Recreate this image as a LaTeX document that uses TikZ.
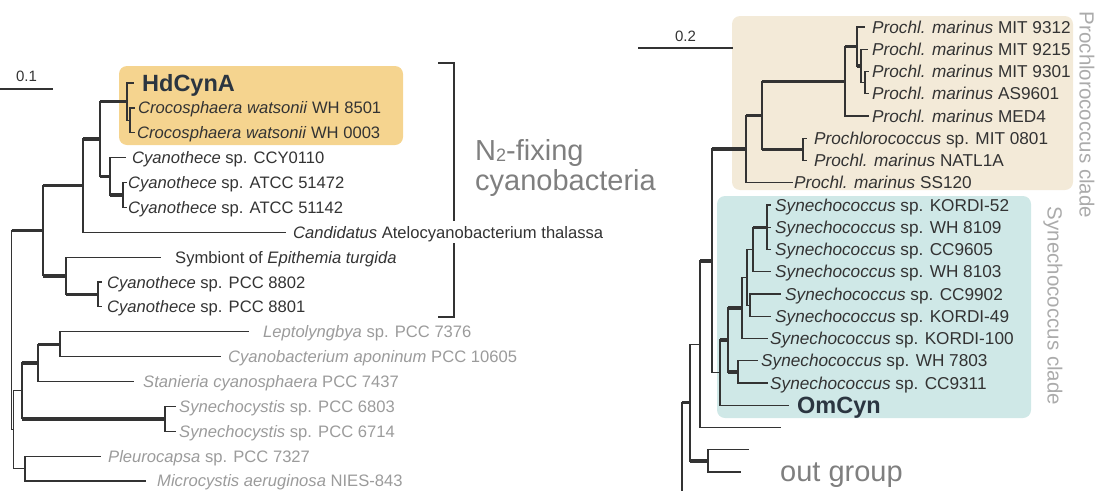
\documentclass[tikz,border=0pt]{standalone}
\usepackage{fontspec}
\setmainfont{Liberation Sans}
\usepackage{xcolor}
\usepackage{tikz}
\usetikzlibrary{positioning}
\definecolor{ink}{HTML}{333333}
\definecolor{mute}{HTML}{9B9B9B}
\definecolor{note}{HTML}{7F7F7F}
\definecolor{pale}{HTML}{ABABAB}
\definecolor{geneink}{HTML}{2B3540}
\definecolor{hdfill}{HTML}{F5D48F}
\definecolor{profill}{HTML}{F3EAD8}
\definecolor{synfill}{HTML}{CFE8E7}

\begin{document}
\begin{tikzpicture}[x=1pt,y=-1pt,
      branch/.style={draw=ink,line width=1.2pt,line cap=rect},
      strong/.style={draw=ink,line width=3.4pt},
      bracket/.style={draw=ink,line width=2pt},
      taxon/.style={inner sep=0pt,text height=12pt,text depth=0pt,text=ink,font=\fontsize{16.6}{18}\selectfont},
      faint/.style={taxon,text=mute},
      rtaxon/.style={taxon,text height=12.4pt,font=\fontsize{17.2}{19}\selectfont},
      genelabel/.style={inner sep=0pt,text height=17pt,text depth=0pt,text=geneink,font=\fontsize{23.5}{25}\selectfont\bfseries},
      bigtext/.style={inner sep=0pt,text height=21pt,text depth=5pt,text=note,font=\fontsize{29}{31}\selectfont},
      cladetext/.style={inner sep=0pt,text=pale,font=\fontsize{20.5}{22}\selectfont,rotate=-90},
      scaletext/.style={inner sep=0pt,text=ink,font=\fontsize{15}{16}\selectfont}]
  \useasboundingbox (0,0) rectangle (1099,490);
  % highlight boxes
  \fill[hdfill,rounded corners=8pt] (119,66) rectangle (403,145);
  \fill[profill,rounded corners=8pt] (732,16) rectangle (1073,190);
  \fill[synfill,rounded corners=8pt] (717,196) rectangle (1031,418);

  % left tree, inner nodes
  \coordinate (R) at (11.5,330.2); \coordinate (I) at (43,230.7);
  \coordinate (F) at (83,185.6);   \coordinate (E) at (100,139);
  \coordinate (A) at (127,101.7);  \coordinate (B) at (130,120.3);
  \coordinate (C) at (110,176.3);  \coordinate (D) at (123,195);
  \coordinate (G) at (66,275.8);   \coordinate (H) at (98,294.4);
  \coordinate (O) at (13.5,429.7); \coordinate (M) at (22,390.8);
  \coordinate (K) at (38,362.8);   \coordinate (J) at (60,344.2);
  \coordinate (L) at (165,418.8);  \coordinate (N) at (25,468.5);
  % left tree, leaf ends
  \coordinate (l0) at (133,83);    \coordinate (l1) at (134,107.9);
  \coordinate (l2) at (134,132.7); \coordinate (l3) at (125,157.6);
  \coordinate (l4) at (126,182.5); \coordinate (l5) at (126,207.4);
  \coordinate (l6) at (285,232.2); \coordinate (l7) at (160,257.1);
  \coordinate (l8) at (101,282);   \coordinate (l9) at (101,306.8);
  \coordinate (l10) at (248,331.7); \coordinate (l11) at (220,356.6);
  \coordinate (l12) at (133,381.4); \coordinate (l13) at (175,406.3);
  \coordinate (l14) at (175,431.2); \coordinate (l15) at (100,456.1);
  \coordinate (l16) at (145,480.9);

  % left tree, branches
  \draw[branch] (R |- I)--(R |- O); \draw[strong] (R |- I)--(I); \draw[branch] (R |- O)--(O);
  \draw[branch] (I |- F)--(I |- G); \draw[strong] (I |- F)--(F); \draw[strong] (I |- G)--(G);
  \draw[branch] (F |- E)--(F |- l6); \draw[strong] (F |- E)--(E); \draw[branch] (F |- l6)--(l6);
  \draw[branch] (E |- A)--(E |- C); \draw[strong] (E |- A)--(A); \draw[strong] (E |- C)--(C);
  \draw[branch] (A |- l0)--(A |- B); \draw[branch] (A |- l0)--(l0); \draw[branch] (A |- B)--(B);
  \draw[branch] (B |- l1)--(B |- l2); \draw[branch] (B |- l1)--(l1); \draw[branch] (B |- l2)--(l2);
  \draw[branch] (C |- l3)--(C |- D); \draw[branch] (C |- l3)--(l3); \draw[strong] (C |- D)--(D);
  \draw[branch] (D |- l4)--(D |- l5); \draw[branch] (D |- l4)--(l4); \draw[branch] (D |- l5)--(l5);
  \draw[branch] (G |- l7)--(G |- H); \draw[branch] (G |- l7)--(l7); \draw[strong] (G |- H)--(H);
  \draw[branch] (H |- l8)--(H |- l9); \draw[branch] (H |- l8)--(l8); \draw[branch] (H |- l9)--(l9);
  \draw[branch] (O |- M)--(O |- N); \draw[branch] (O |- M)--(M); \draw[branch] (O |- N)--(N);
  \draw[branch] (M |- K)--(M |- L); \draw[strong] (M |- K)--(K); \draw[strong] (M |- L)--(L);
  \draw[branch] (K |- J)--(K |- l12); \draw[strong] (K |- J)--(J); \draw[branch] (K |- l12)--(l12);
  \draw[branch] (J |- l10)--(J |- l11); \draw[branch] (J |- l10)--(l10); \draw[branch] (J |- l11)--(l11);
  \draw[branch] (L |- l13)--(L |- l14); \draw[branch] (L |- l13)--(l13); \draw[branch] (L |- l14)--(l14);
  \draw[branch] (N |- l15)--(N |- l16); \draw[branch] (N |- l15)--(l15); \draw[branch] (N |- l16)--(l16);

  % right tree, inner nodes
  \coordinate (base) at (682,490); \coordinate (Q) at (690,402.5);
  \coordinate (S) at (700,344.1);  \coordinate (T) at (708,460.9);
  \coordinate (U) at (712,260.8);  \coordinate (V) at (720,372.6);
  \coordinate (W) at (728,339.9);  \coordinate (X) at (738,371.9);
  \coordinate (Y) at (742,307.9);  \coordinate (Z) at (747,277.3);
  \coordinate (Z1) at (750,305.1); \coordinate (Z2) at (753,249.5);
  \coordinate (Z3) at (767,227.25);
  \coordinate (PA) at (746,149);   \coordinate (PB) at (762,115.3);
  \coordinate (PC) at (803,149.4); \coordinate (PD) at (845,81.2);
  \coordinate (PE) at (857,46.5);  \coordinate (PF) at (861,65.9);
  \coordinate (PG) at (865,82.6);
  % right tree, leaf ends
  \coordinate (r0) at (864,27);     \coordinate (r1) at (867,49.25);
  \coordinate (r2) at (868,71.5);   \coordinate (r3) at (868,93.75);
  \coordinate (r4) at (868,116);    \coordinate (r5) at (806,138.25);
  \coordinate (r6) at (806,160.5);  \coordinate (r7) at (792,182.75);
  \coordinate (r8) at (770,205);    \coordinate (r9) at (770,227.25);
  \coordinate (r10) at (770,249.5); \coordinate (r11) at (770,271.75);
  \coordinate (r12) at (780,294);   \coordinate (r13) at (770,316.25);
  \coordinate (r14) at (767,338.5); \coordinate (r15) at (757,360.75);
  \coordinate (r16) at (767,383);   \coordinate (r17) at (788,405.25);
  \coordinate (r18) at (780,427.5); \coordinate (r19) at (748,449.75);
  \coordinate (r20) at (740,472);

  % right tree, branches
  \draw[branch] (base |- Q)--(base); \draw[strong] (base |- Q)--(Q);
  \draw[branch] (Q |- S)--(Q |- T); \draw[branch] (Q |- S)--(S); \draw[strong] (Q |- T)--(T);
  \draw[branch] (T |- r19)--(T |- r20); \draw[branch] (T |- r19)--(r19); \draw[branch] (T |- r20)--(r20);
  \draw[branch] (S |- U)--(S |- r18); \draw[strong] (S |- U)--(U); \draw[branch] (S |- r18)--(r18);
  \draw[branch] (U |- PA)--(U |- V); \draw[strong] (U |- PA)--(PA); \draw[branch] (U |- V)--(V);
  \draw[branch] (PA |- PB)--(PA |- r7); \draw[strong] (PA |- PB)--(PB); \draw[branch] (PA |- r7)--(r7);
  \draw[branch] (PB |- PD)--(PB |- PC); \draw[strong] (PB |- PD)--(PD); \draw[strong] (PB |- PC)--(PC);
  \draw[branch] (PC |- r5)--(PC |- r6); \draw[branch] (PC |- r5)--(r5); \draw[branch] (PC |- r6)--(r6);
  \draw[branch] (PD |- PE)--(PD |- r4); \draw[strong] (PD |- PE)--(PE); \draw[branch] (PD |- r4)--(r4);
  \draw[branch] (PE |- r0)--(PE |- PF); \draw[branch] (PE |- r0)--(r0); \draw[strong] (PE |- PF)--(PF);
  \draw[branch] (PF |- r1)--(PF |- PG); \draw[branch] (PF |- r1)--(r1); \draw[branch] (PF |- PG)--(PG);
  \draw[branch] (PG |- r2)--(PG |- r3); \draw[branch] (PG |- r2)--(r2); \draw[branch] (PG |- r3)--(r3);
  \draw[branch] (V |- W)--(V |- r17); \draw[strong] (V |- W)--(W); \draw[branch] (V |- r17)--(r17);
  \draw[branch] (W |- Y)--(W |- X); \draw[strong] (W |- Y)--(Y); \draw[strong] (W |- X)--(X);
  \draw[branch] (X |- r15)--(X |- r16); \draw[branch] (X |- r15)--(r15); \draw[branch] (X |- r16)--(r16);
  \draw[branch] (Y |- Z)--(Y |- r14); \draw[branch] (Y |- Z)--(Z); \draw[branch] (Y |- r14)--(r14);
  \draw[branch] (Z |- Z2)--(Z |- Z1); \draw[branch] (Z |- Z2)--(Z2); \draw[branch] (Z |- Z1)--(Z1);
  \draw[branch] (Z1 |- r12)--(Z1 |- r13); \draw[branch] (Z1 |- r12)--(r12); \draw[branch] (Z1 |- r13)--(r13);
  \draw[branch] (Z2 |- Z3)--(Z2 |- r11); \draw[strong] (Z2 |- Z3)--(Z3); \draw[branch] (Z2 |- r11)--(r11);
  \draw[branch] (Z3 |- r8)--(Z3 |- r10); \draw[branch] (Z3 |- r8)--(r8);
  \draw[branch] (Z3 |- r9)--(r9); \draw[branch] (Z3 |- r10)--(r10);

  % scale bars
  \coordinate (sbl) at (0,89); \coordinate (sbr) at (53,89);
  \draw[branch,line cap=butt] (sbl)--(sbr) node[scaletext,midway,above=7pt] (scalel) {0.1};
  \coordinate (sbl2) at (638,48); \coordinate (sbr2) at (733,48);
  \draw[branch,line cap=butt] (sbl2)--(sbr2) node[scaletext,midway,above=6pt] (scaler) {0.2};

  % bracket
  \coordinate (brtop) at (438,63); \coordinate (brbot) at (438,317);
  \draw[bracket] (brtop)--++(16,0) |- (brbot);

  % left labels
  \node[genelabel,right=9pt of l0] (t0) {HdCynA};
  \node[taxon,right=4pt of l1] (t1) {\textit{Crocosphaera watsonii} WH 8501};
  \node[taxon,right=3pt of l2] (t2) {\textit{Crocosphaera watsonii} WH 0003};
  \node[taxon,right=7pt of l3] (t3) {\textit{Cyanothece} sp. CCY0110};
  \node[taxon,right=2pt of l4] (t4) {\textit{Cyanothece} sp. ATCC 51472};
  \node[taxon,right=2pt of l5] (t5) {\textit{Cyanothece} sp. ATCC 51142};
  \node[taxon,fill=white,inner ysep=5pt,right=8pt of l6] (t6) {\textit{Candidatus} Atelocyanobacterium thalassa};
  \node[taxon,right=15pt of l7] (t7) {Symbiont of \textit{Epithemia turgida}};
  \node[taxon,right=6pt of l8] (t8) {\textit{Cyanothece} sp. PCC 8802};
  \node[taxon,right=6pt of l9] (t9) {\textit{Cyanothece} sp. PCC 8801};
  \node[faint,right=15pt of l10] (t10) {\textit{Leptolyngbya} sp. PCC 7376};
  \node[faint,right=8pt of l11] (t11) {\textit{Cyanobacterium aponinum} PCC 10605};
  \node[faint,right=10pt of l12] (t12) {\textit{Stanieria cyanosphaera} PCC 7437};
  \node[faint,right=4pt of l13] (t13) {\textit{Synechocystis} sp. PCC 6803};
  \node[faint,right=4pt of l14] (t14) {\textit{Synechocystis} sp. PCC 6714};
  \node[faint,right=8pt of l15] (t15) {\textit{Pleurocapsa} sp. PCC 7327};
  \node[faint,right=12pt of l16] (t16) {\textit{Microcystis aeruginosa} NIES-843};
  \node[bigtext,text depth=4pt,anchor=base west] (nfix) at (475,160) {N\raisebox{-1pt}{\fontsize{18}{18}\selectfont 2}-fixing};
  \node[bigtext,text height=20pt,anchor=base west] (cyano) at ([yshift=-30pt]nfix.base west) {cyanobacteria};

  % right labels
  \node[rtaxon,right=8pt of r0] (s0) {\textit{Prochl. marinus} MIT 9312};
  \node[rtaxon,right=5pt of r1] (s1) {\textit{Prochl. marinus} MIT 9215};
  \node[rtaxon,right=4pt of r2] (s2) {\textit{Prochl. marinus} MIT 9301};
  \node[rtaxon,right=4pt of r3] (s3) {\textit{Prochl. marinus} AS9601};
  \node[rtaxon,right=4pt of r4] (s4) {\textit{Prochl. marinus} MED4};
  \node[rtaxon,right=8pt of r5] (s5) {\textit{Prochlorococcus} sp. MIT 0801};
  \node[rtaxon,right=8pt of r6] (s6) {\textit{Prochl. marinus} NATL1A};
  \node[rtaxon,right=2pt of r7] (s7) {\textit{Prochl. marinus} SS120};
  \node[rtaxon,right=5pt of r8] (s8) {\textit{Synechococcus} sp. KORDI-52};
  \node[rtaxon,right=5pt of r9] (s9) {\textit{Synechococcus} sp. WH 8109};
  \node[rtaxon,right=5pt of r10] (s10) {\textit{Synechococcus} sp. CC9605};
  \node[rtaxon,right=5pt of r11] (s11) {\textit{Synechococcus} sp. WH 8103};
  \node[rtaxon,right=5pt of r12] (s12) {\textit{Synechococcus} sp. CC9902};
  \node[rtaxon,right=5pt of r13] (s13) {\textit{Synechococcus} sp. KORDI-49};
  \node[rtaxon,right=3pt of r14] (s14) {\textit{Synechococcus} sp. KORDI-100};
  \node[rtaxon,right=4pt of r15] (s15) {\textit{Synechococcus} sp. WH 7803};
  \node[rtaxon,right=3pt of r16] (s16) {\textit{Synechococcus} sp. CC9311};
  \node[genelabel,right=9pt of r17] (s17) {OmCyn};
  \node[bigtext,anchor=base west] (outgrp) at (780,481) {out group};
  \node[cladetext] (proclade) at (1087,115) {Prochlorococcus clade};
  \node[cladetext] (synclade) at (1053,306) {Synechococcus clade};
\end{tikzpicture}
\end{document}
